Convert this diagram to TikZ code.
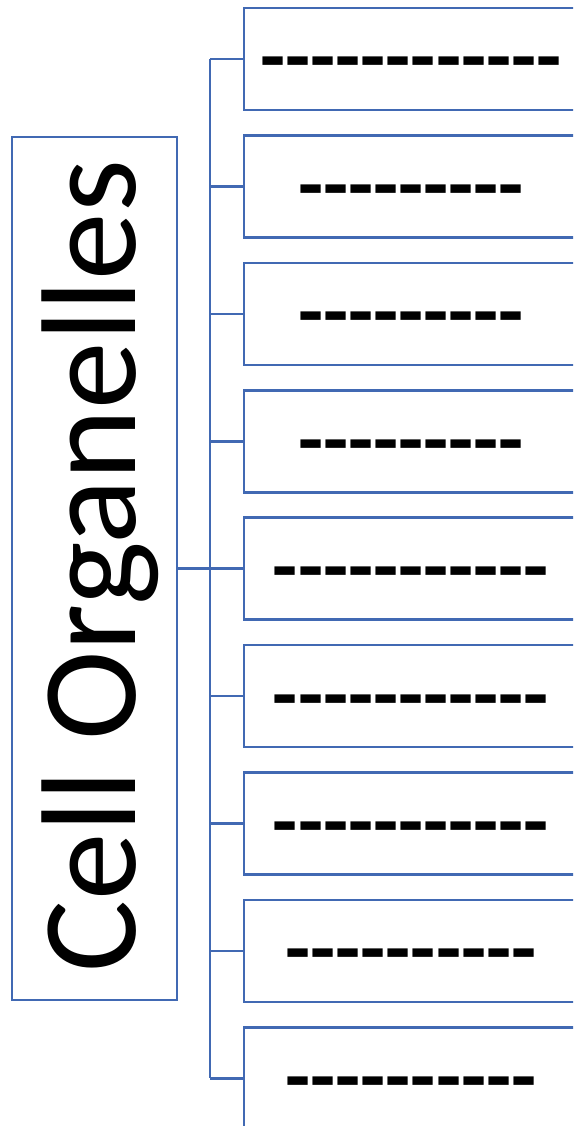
\documentclass[tikz,border=0pt]{standalone}
\usepackage{fontspec}
\setmainfont{Carlito}
\newfontfamily\dashfont{Carlito}[Ligatures=TeXOff]
\definecolor{obl}{HTML}{4169B3}
\begin{document}
\begin{tikzpicture}[x=1pt,y=-1pt,
  line/.style={draw=obl,line width=2.6pt},
  itembox/.style={line,minimum width=334pt,minimum height=102pt,inner sep=0pt,anchor=center},
  dashtext/.style={font=\dashfont\fontsize{82}{82}\selectfont\bfseries,inner sep=0pt,anchor=base}]
\useasboundingbox (0,0) rectangle (573,1126);
\clip (0,0) rectangle (573,1126);
% left box
\node[line,minimum width=165pt,minimum height=863pt,inner sep=0pt] (cell) at (94.5,568.5) {};
\node[rotate=90,anchor=base,inner sep=0pt,font=\fontsize{135}{135}\selectfont] (celltext) at (135,566) {Cell Organelles};
% right boxes
\foreach \i/\d in {1/------------,2/---------,3/---------,4/---------,5/-----------,6/-----------,7/-----------,8/----------,9/----------}{
  \pgfmathsetmacro{\cy}{59+127.4*(\i-1)}
  \node[itembox] (b\i) at (411,\cy) {};
  \node[dashtext] (t\i) at (411,\cy+26) {\d};
  \coordinate (j\i) at (210,\cy);
  \draw[line] (j\i) -- (b\i.west);
}
\draw[line] (j1) -- (j9);
\coordinate (jm) at (210,568.5);
\draw[line] (cell.east) -- (jm);
\end{tikzpicture}
\end{document}
